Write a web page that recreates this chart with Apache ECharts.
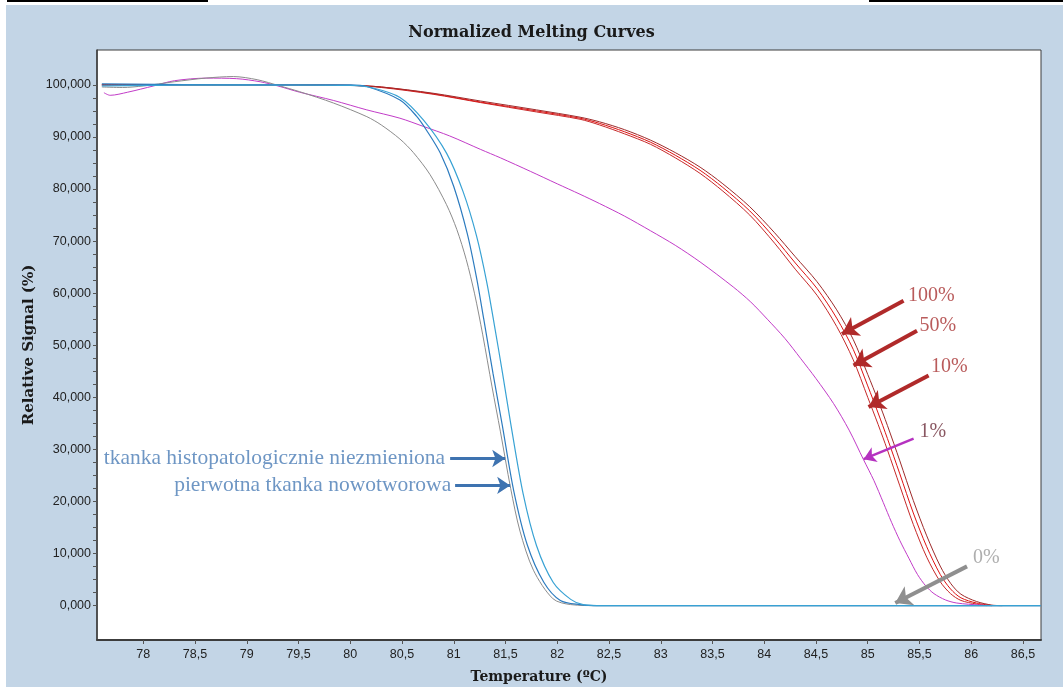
<!DOCTYPE html>
<html>
<head>
<meta charset="utf-8">
<script src="https://cdn.jsdelivr.net/npm/echarts@6/dist/echarts.min.js"></script>
<style>
  html, body { margin: 0; padding: 0; background: #ffffff; }
  #chart { width: 1063px; height: 689px; }
</style>
</head>
<body>
<div id="chart"></div>
<script>
// Temperature ticks (°C) and signal ticks (%)
const xTicks = [78, 78.5, 79, 79.5, 80, 80.5, 81, 81.5, 82, 82.5, 83, 83.5, 84, 84.5, 85, 85.5, 86, 86.5];
const yTicks = [0, 10, 20, 30, 40, 50, 60, 70, 80, 90, 100];
const yMinorTicks = [0, 2.5, 5, 7.5, 10, 12.5, 15, 17.5, 20, 22.5, 25, 27.5, 30, 32.5, 35, 37.5, 40, 42.5, 45, 47.5,
  50, 52.5, 55, 57.5, 60, 62.5, 65, 67.5, 70, 72.5, 75, 77.5, 80, 82.5, 85, 87.5, 90, 92.5, 95, 97.5, 100];

// Normalized melting curves: [temperature, relative signal]
const red100 = [[77.6,100.0],[79.0,100.0],[80.0,99.9],[80.3,99.5],[80.8,98.2],[81.26,96.6],[81.8,94.8],[82.22,93.4],
  [82.41,92.3],[82.65,90.6],[82.9,88.6],[83.14,86.0],[83.38,83.0],[83.6,79.6],[83.86,75.0],[84.1,69.6],[84.3,64.6],
  [84.51,59.6],[84.7,53.6],[84.86,47.2],[85.0,40.0],[85.1,34.8],[85.19,29.9],[85.31,23.0],[85.44,15.6],[85.57,9.3],
  [85.7,4.6],[85.8,2.3],[85.9,1.0],[86.05,0.3],[86.15,0]];
const red50 = [[77.6,100.0],[79.0,100.0],[80.0,99.9],[80.3,99.6],[80.8,98.3],[81.26,96.7],[81.8,95.0],[82.22,93.6],
  [82.41,92.6],[82.65,91.0],[82.9,89.0],[83.14,86.5],[83.38,83.6],[83.6,80.3],[83.86,75.8],[84.1,70.6],[84.3,65.8],
  [84.51,60.9],[84.7,55.2],[84.86,49.2],[85.0,42.2],[85.1,37.0],[85.19,32.1],[85.31,25.3],[85.44,17.8],[85.57,11.3],
  [85.7,6.0],[85.8,3.2],[85.9,1.5],[86.05,0.5],[86.2,0]];
const red10 = [[77.6,100.0],[79.0,100.0],[80.0,99.9],[80.3,99.6],[80.8,98.4],[81.26,96.9],[81.8,95.2],[82.22,93.8],
  [82.41,92.9],[82.65,91.4],[82.9,89.4],[83.14,87.0],[83.38,84.2],[83.6,81.0],[83.86,76.6],[84.1,71.6],[84.3,67.0],
  [84.51,62.2],[84.7,56.8],[84.86,51.1],[85.0,44.4],[85.1,39.4],[85.19,34.6],[85.31,27.8],[85.44,20.2],[85.57,13.4],
  [85.7,7.6],[85.8,4.3],[85.9,2.2],[86.05,0.8],[86.2,0.1],[86.3,0]];
const magenta1 = [[77.62,98.5],[77.68,98.0],[77.85,98.6],[78.1,99.8],[78.3,100.8],[78.61,101.3],[78.9,101.2],[79.13,100.6],
  [79.3,99.8],[79.51,98.6],[79.84,97.0],[80.16,95.2],[80.48,93.6],[80.71,92.0],[80.96,90.2],[81.26,87.6],[81.45,86.0],
  [81.74,83.4],[82.0,81.0],[82.22,79.0],[82.41,77.2],[82.65,74.8],[82.9,72.0],[83.14,69.2],[83.38,66.0],[83.7,61.2],
  [83.87,58.3],[84.03,55.0],[84.2,51.3],[84.35,47.5],[84.5,43.6],[84.67,38.8],[84.82,33.7],[84.96,28.0],[85.06,24.0],
  [85.15,19.8],[85.23,16.0],[85.31,12.5],[85.4,9.0],[85.48,6.0],[85.56,3.8],[85.64,2.3],[85.75,1.1],[85.86,0.5],
  [86.09,0.1],[86.2,0]];
const gray0 = [[77.6,99.6],[77.8,99.5],[78.0,99.8],[78.3,100.6],[78.6,101.3],[78.87,101.6],[79.1,101.0],[79.32,99.8],
  [79.51,98.7],[79.84,96.5],[80.16,93.9],[80.3,92.3],[80.48,89.6],[80.61,87.0],[80.77,82.8],[80.93,77.0],[81.03,72.2],
  [81.12,66.5],[81.2,60.0],[81.28,52.0],[81.37,42.0],[81.45,33.5],[81.55,22.5],[81.64,14.3],[81.77,6.8],[81.96,1.3],
  [82.13,0.2],[82.4,0],[86.67,0]];
const blueNormal = [[77.6,100.2],[79.0,100.0],[80.0,100.0],[80.16,99.7],[80.48,97.1],[80.64,94.0],[80.74,91.2],[80.87,86.9],
  [81.0,80.5],[81.13,71.5],[81.22,63.0],[81.29,55.0],[81.38,44.5],[81.47,34.5],[81.58,22.0],[81.71,11.7],[81.87,4.5],
  [82.03,1.0],[82.22,0.2],[82.4,0],[86.67,0]];
const bluePrimary = [[77.6,99.8],[79.0,100.0],[80.0,99.9],[80.2,99.5],[80.48,97.6],[80.71,93.2],[80.93,86.9],[81.09,79.5],
  [81.22,71.0],[81.32,62.0],[81.40,53.0],[81.47,44.8],[81.55,35.0],[81.67,21.5],[81.80,11.5],[81.96,4.5],[82.13,1.2],
  [82.25,0.2],[82.45,0],[86.67,0]];

// Annotation texts: [label, temperature, signal]
const noteLabels = ['100%', '50%', '10%', '1%', '0%'];
const notePos = [[85.614, 59.5], [85.677, 53.8], [85.788, 45.8], [85.629, 33.3], [86.146, 9.1]];
const tissueLabels = ['tkanka histopatologicznie niezmieniona', 'pierwotna tkanka nowotworowa'];
const tissuePos = [[80.917, 28.2], [80.975, 23.1]];
// Arrows: [tail, tip]
const arrowRed = [
  [[85.346, 58.54], [84.751, 52.17]],
  [[85.476, 52.80], [84.863, 46.10]],
  [[85.588, 44.19], [85.008, 38.15]]
];
const arrowMagenta = [[[85.443, 32.08], [84.960, 28.12]]];
const arrowGray = [[[85.959, 7.54], [85.266, 0.52]]];
const arrowBlue = [
  [[80.965, 28.26], [81.497, 28.26]],
  [[81.013, 23.09], [81.545, 23.09]]
];

const fmtComma = (v, d) => (d == null ? String(v) : v.toFixed(d)).replace('.', ',');
const serif = '"Liberation Serif", "DejaVu Serif", serif';
const wideSerif = '"DejaVu Serif", serif';
const sans = '"Liberation Sans", "DejaVu Sans", sans-serif';

function curve(name, data, color, width) {
  return { name, type: 'line', data, showSymbol: false, symbol: 'none', smooth: 0.3,
    lineStyle: { color, width }, silent: true, animation: false, z: 3 };
}
function arrows(pairs, color, width, head) {
  return {
    type: 'lines', coordinateSystem: 'cartesian2d', silent: true, animation: false, z: 5,
    symbol: ['none', 'arrow'], symbolSize: head,
    lineStyle: { color, width, opacity: 1, curveness: 0 },
    data: pairs.map(p => ({ coords: [p[0], p[1]] }))
  };
}
function texts(labels, pos, colors, size, align) {
  return {
    type: 'scatter', symbolSize: 0, silent: true, animation: false, z: 6,
    data: labels.map((t, i) => ({
      name: t, value: pos[i],
      label: { show: true, formatter: '{b}', position: [0, 0], align, verticalAlign: 'middle',
        color: colors[i], fontFamily: serif, fontSize: size }
    }))
  };
}

const chart = echarts.init(document.getElementById('chart'), null, { renderer: 'canvas' });
chart.setOption({
  backgroundColor: '#ffffff',
  animation: false,
  graphic: [
    { type: 'rect', shape: { x: 6, y: 5, width: 1057, height: 682 }, style: { fill: '#c3d5e6' }, z: -10 },
    { type: 'rect', shape: { x: 7, y: 0, width: 201, height: 2 }, style: { fill: '#000000' }, z: -9 },
    { type: 'rect', shape: { x: 869, y: 0, width: 194, height: 2 }, style: { fill: '#000000' }, z: -9 }
  ],
  title: {
    text: 'Normalized Melting Curves', left: 'center', top: 20,
    textStyle: { fontFamily: wideSerif, fontWeight: 'bold', fontSize: 16, color: '#1a1a1a' }
  },
  grid: { left: 97, top: 50, right: 22, bottom: 47, show: true, backgroundColor: '#ffffff',
    borderColor: '#3c3c3c', borderWidth: 1 },
  xAxis: {
    type: 'value', min: 77.553, max: 86.674,
    name: 'Temperature (ºC)', nameLocation: 'middle', nameGap: 30, nameMoveOverlap: false,
    nameTextStyle: { fontFamily: wideSerif, fontWeight: 'bold', fontSize: 14, color: '#1a1a1a', padding: [0, 60, 0, 0] },
    axisLine: { show: true, onZero: false, lineStyle: { color: '#3c3c3c', width: 2 } },
    axisTick: { show: true, length: 4, customValues: xTicks, lineStyle: { color: '#555' } },
    axisLabel: { customValues: xTicks, formatter: v => fmtComma(v), fontFamily: sans, fontSize: 12.5, color: '#222', margin: 8 },
    splitLine: { show: false }
  },
  yAxis: {
    type: 'value', min: -6.6, max: 106.7,
    name: 'Relative Signal (%)', nameLocation: 'middle', nameGap: 60, nameRotate: 90, nameMoveOverlap: false,
    nameTextStyle: { fontFamily: wideSerif, fontWeight: 'bold', fontSize: 15, color: '#1a1a1a' },
    axisLine: { show: true, onZero: false, lineStyle: { color: '#3c3c3c', width: 1.5 } },
    axisTick: { show: true, length: 4, customValues: yMinorTicks, lineStyle: { color: '#555' } },
    axisLabel: { customValues: yTicks, formatter: v => fmtComma(v, 3), fontFamily: sans, fontSize: 12.5, color: '#222', margin: 6 },
    splitLine: { show: false }
  },
  series: [
    curve('100%', red100, '#c62828', 1),
    curve('50%', red50, '#e01212', 1),
    curve('10%', red10, '#9e2a2a', 1),
    curve('1%', magenta1, '#c23cc8', 1),
    curve('0%', gray0, '#8c8c8c', 1),
    curve('tkanka histopatologicznie niezmieniona', blueNormal, '#2c7bbf', 1.2),
    curve('pierwotna tkanka nowotworowa', bluePrimary, '#38a2d4', 1.2),
    arrows(arrowRed, '#b02a2a', 4, 16),
    arrows(arrowMagenta, '#b532c0', 2.5, 12),
    arrows(arrowGray, '#8f8f8f', 4, 16),
    arrows(arrowBlue, '#3e73b0', 3, 13),
    texts(noteLabels, notePos, ['#a83232', '#a83232', '#a83232', '#6b2d3a', '#9a9a9a'], 20, 'center'),
    texts(tissueLabels, tissuePos, ['#4a7cb5', '#4a7cb5'], 21.5, 'right')
  ]
});
</script>
</body>
</html>
